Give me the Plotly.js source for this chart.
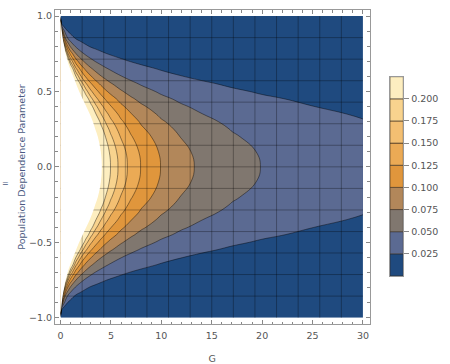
<!DOCTYPE html>
<html><head><meta charset="utf-8">
<script src="https://cdn.plot.ly/plotly-3.0.1.min.js"></script>
<style>html,body{margin:0;padding:0;background:#fff}#chart{width:450px;height:364px}</style>
</head><body><div id="chart"></div>
<script>
// Grid of G values (columns) and population dependence parameter values (rows)
const gVals = [0, 0.1, 0.25, 0.5, 0.75, 1, 1.5, 2, 2.5, 3, 3.5, 4, 4.5, 5, 6, 7, 8, 10, 12, 14, 17, 20, 25, 30];
const rVals = [-1, -0.95, -0.9, -0.85, -0.8, -0.75, -0.7, -0.65, -0.6, -0.55, -0.5, -0.45, -0.4, -0.35, -0.3, -0.25, -0.2, -0.1, 0,
               0.1, 0.2, 0.25, 0.3, 0.35, 0.4, 0.45, 0.5, 0.55, 0.6, 0.65, 0.7, 0.75, 0.8, 0.85, 0.9, 0.95, 1];
// Values estimated from the contour positions in the picture (0.3 = above plot range)
const zRows = [
 [0,0,0,0,0,0,0,0,0,0,0,0,0,0,0,0,0,0,0,0,0,0,0,0],
 [0.3,0.02,0.008,0.004,0.0027,0.002,0.0013,0.001,0.0008,0.0007,0.0006,0.0005,0.0004,0.0004,0.0003,0.0003,0.0002,0.0002,0.0002,0.0001,0.0001,0.0001,0.0001,0.0001],
 [0.3,0.175,0.07,0.035,0.023,0.0175,0.0117,0.0088,0.007,0.0058,0.005,0.0044,0.0039,0.0035,0.0029,0.0025,0.0022,0.0018,0.0015,0.0013,0.001,0.0009,0.0007,0.0006],
 [0.3,0.3,0.15,0.075,0.05,0.0375,0.025,0.019,0.015,0.0125,0.0107,0.0094,0.0083,0.0075,0.0063,0.0054,0.0047,0.0038,0.0031,0.0027,0.0022,0.0019,0.0015,0.0013],
 [0.3,0.3,0.28,0.14,0.093,0.07,0.047,0.035,0.028,0.023,0.02,0.0175,0.0156,0.014,0.0117,0.01,0.0088,0.007,0.0058,0.005,0.0041,0.0035,0.0028,0.0023],
 [0.3,0.3,0.3,0.23,0.153,0.115,0.0767,0.0575,0.046,0.0383,0.0329,0.0288,0.0256,0.023,0.0192,0.0164,0.0144,0.0115,0.0096,0.0082,0.0068,0.0058,0.0046,0.0038],
 [0.3,0.3,0.3,0.3,0.227,0.17,0.113,0.085,0.068,0.0567,0.0486,0.0425,0.0378,0.034,0.0283,0.0243,0.0213,0.017,0.0142,0.0121,0.01,0.0085,0.0068,0.0057],
 [0.3,0.3,0.3,0.3,0.3,0.235,0.157,0.1175,0.094,0.0783,0.0671,0.0588,0.0522,0.047,0.0392,0.0336,0.0294,0.0235,0.0196,0.0168,0.0138,0.0118,0.0094,0.0078],
 [0.3,0.3,0.3,0.3,0.3,0.3,0.203,0.1525,0.122,0.102,0.0871,0.0763,0.0678,0.061,0.0508,0.0436,0.0381,0.0305,0.0254,0.0218,0.0179,0.0153,0.0122,0.0102],
 [0.3,0.3,0.3,0.3,0.3,0.3,0.257,0.1925,0.154,0.128,0.11,0.0963,0.0856,0.077,0.0642,0.055,0.0481,0.0385,0.0321,0.0275,0.0226,0.0193,0.0154,0.0128],
 [0.3,0.3,0.3,0.3,0.3,0.3,0.3,0.2325,0.186,0.155,0.133,0.116,0.103,0.093,0.0775,0.0664,0.0581,0.0465,0.0388,0.0332,0.0274,0.0233,0.0186,0.0155],
 [0.3,0.3,0.3,0.3,0.3,0.3,0.3,0.275,0.22,0.183,0.157,0.1375,0.122,0.11,0.0917,0.0786,0.0688,0.055,0.0458,0.0393,0.0324,0.0275,0.022,0.0183],
 [0.3,0.3,0.3,0.3,0.3,0.3,0.3,0.3,0.252,0.21,0.18,0.1575,0.14,0.126,0.105,0.09,0.0788,0.063,0.0525,0.045,0.0371,0.0315,0.0252,0.021],
 [0.3,0.3,0.3,0.3,0.3,0.3,0.3,0.3,0.282,0.235,0.201,0.176,0.157,0.141,0.1175,0.101,0.0881,0.0705,0.0588,0.0504,0.0415,0.0353,0.0282,0.0235],
 [0.3,0.3,0.3,0.3,0.3,0.3,0.3,0.3,0.3,0.258,0.221,0.194,0.172,0.155,0.129,0.111,0.0969,0.0775,0.0646,0.0554,0.0456,0.0388,0.031,0.0258],
 [0.3,0.3,0.3,0.3,0.3,0.3,0.3,0.3,0.3,0.278,0.239,0.209,0.186,0.167,0.139,0.119,0.104,0.0835,0.0696,0.0596,0.0491,0.0418,0.0334,0.0278],
 [0.3,0.3,0.3,0.3,0.3,0.3,0.3,0.3,0.3,0.297,0.254,0.223,0.198,0.178,0.148,0.127,0.111,0.089,0.074,0.064,0.052,0.0445,0.036,0.0297],
 [0.3,0.3,0.3,0.3,0.3,0.3,0.3,0.3,0.3,0.3,0.276,0.241,0.214,0.193,0.161,0.138,0.121,0.0965,0.0804,0.0689,0.0568,0.0483,0.0386,0.0322],
 [0.3,0.3,0.3,0.3,0.3,0.3,0.3,0.3,0.3,0.3,0.283,0.248,0.22,0.198,0.165,0.141,0.124,0.099,0.0825,0.0707,0.0582,0.0495,0.0396,0.033],
 [0.3,0.3,0.3,0.3,0.3,0.3,0.3,0.3,0.3,0.3,0.276,0.241,0.214,0.193,0.161,0.138,0.121,0.0965,0.0804,0.0689,0.0568,0.0483,0.0386,0.0322],
 [0.3,0.3,0.3,0.3,0.3,0.3,0.3,0.3,0.3,0.297,0.254,0.223,0.198,0.178,0.148,0.127,0.111,0.089,0.074,0.064,0.052,0.0445,0.036,0.0297],
 [0.3,0.3,0.3,0.3,0.3,0.3,0.3,0.3,0.3,0.278,0.239,0.209,0.186,0.167,0.139,0.119,0.104,0.0835,0.0696,0.0596,0.0491,0.0418,0.0334,0.0278],
 [0.3,0.3,0.3,0.3,0.3,0.3,0.3,0.3,0.3,0.258,0.221,0.194,0.172,0.155,0.129,0.111,0.0969,0.0775,0.0646,0.0554,0.0456,0.0388,0.031,0.0258],
 [0.3,0.3,0.3,0.3,0.3,0.3,0.3,0.3,0.282,0.235,0.201,0.176,0.157,0.141,0.1175,0.101,0.0881,0.0705,0.0588,0.0504,0.0415,0.0353,0.0282,0.0235],
 [0.3,0.3,0.3,0.3,0.3,0.3,0.3,0.3,0.252,0.21,0.18,0.1575,0.14,0.126,0.105,0.09,0.0788,0.063,0.0525,0.045,0.0371,0.0315,0.0252,0.021],
 [0.3,0.3,0.3,0.3,0.3,0.3,0.3,0.275,0.22,0.183,0.157,0.1375,0.122,0.11,0.0917,0.0786,0.0688,0.055,0.0458,0.0393,0.0324,0.0275,0.022,0.0183],
 [0.3,0.3,0.3,0.3,0.3,0.3,0.3,0.2325,0.186,0.155,0.133,0.116,0.103,0.093,0.0775,0.0664,0.0581,0.0465,0.0388,0.0332,0.0274,0.0233,0.0186,0.0155],
 [0.3,0.3,0.3,0.3,0.3,0.3,0.257,0.1925,0.154,0.128,0.11,0.0963,0.0856,0.077,0.0642,0.055,0.0481,0.0385,0.0321,0.0275,0.0226,0.0193,0.0154,0.0128],
 [0.3,0.3,0.3,0.3,0.3,0.3,0.203,0.1525,0.122,0.102,0.0871,0.0763,0.0678,0.061,0.0508,0.0436,0.0381,0.0305,0.0254,0.0218,0.0179,0.0153,0.0122,0.0102],
 [0.3,0.3,0.3,0.3,0.3,0.235,0.157,0.1175,0.094,0.0783,0.0671,0.0588,0.0522,0.047,0.0392,0.0336,0.0294,0.0235,0.0196,0.0168,0.0138,0.0118,0.0094,0.0078],
 [0.3,0.3,0.3,0.3,0.227,0.17,0.113,0.085,0.068,0.0567,0.0486,0.0425,0.0378,0.034,0.0283,0.0243,0.0213,0.017,0.0142,0.0121,0.01,0.0085,0.0068,0.0057],
 [0.3,0.3,0.3,0.23,0.153,0.115,0.0767,0.0575,0.046,0.0383,0.0329,0.0288,0.0256,0.023,0.0192,0.0164,0.0144,0.0115,0.0096,0.0082,0.0068,0.0058,0.0046,0.0038],
 [0.3,0.3,0.28,0.14,0.093,0.07,0.047,0.035,0.028,0.023,0.02,0.0175,0.0156,0.014,0.0117,0.01,0.0088,0.007,0.0058,0.005,0.0041,0.0035,0.0028,0.0023],
 [0.3,0.3,0.15,0.075,0.05,0.0375,0.025,0.019,0.015,0.0125,0.0107,0.0094,0.0083,0.0075,0.0063,0.0054,0.0047,0.0038,0.0031,0.0027,0.0022,0.0019,0.0015,0.0013],
 [0.3,0.175,0.07,0.035,0.023,0.0175,0.0117,0.0088,0.007,0.0058,0.005,0.0044,0.0039,0.0035,0.0029,0.0025,0.0022,0.0018,0.0015,0.0013,0.001,0.0009,0.0007,0.0006],
 [0.3,0.02,0.008,0.004,0.0027,0.002,0.0013,0.001,0.0008,0.0007,0.0006,0.0005,0.0004,0.0004,0.0003,0.0003,0.0002,0.0002,0.0002,0.0001,0.0001,0.0001,0.0001,0.0001],
 [0,0,0,0,0,0,0,0,0,0,0,0,0,0,0,0,0,0,0,0,0,0,0,0]
];
// Contour levels / legend
const levels = [0.025, 0.05, 0.075, 0.1, 0.125, 0.15, 0.175, 0.2];
const levelLabels = ['0.025','0.050','0.075','0.100','0.125','0.150','0.175','0.200'];
const bandBottoms = [0, 0.025, 0.05, 0.075, 0.1, 0.125, 0.15, 0.175, 0.2];
const bandHeights = [0.025, 0.025, 0.025, 0.025, 0.025, 0.025, 0.025, 0.025, 0.025];
const bandColors = ['#1f4a7f','#5b6a92','#80776f','#b2875a','#e0963c','#ebaa55','#f3bf72','#f8d38e','#fdeec0'];
// Mesh lines
const meshG = [2.143, 4.286, 6.429, 8.571, 10.714, 12.857, 15, 17.143, 19.286, 21.429, 23.571, 25.714, 27.857];
const meshR = [-0.857, -0.714, -0.571, -0.429, -0.286, -0.143, 0, 0.143, 0.286, 0.429, 0.571, 0.714, 0.857];
// Region outside the plot range (white)
const whiteG = [0, 0.05, 0.12, 0.22, 0.35, 0.5, 0.7, 0.95, 1.25, 1.55, 1.85, 2.2, 2.55, 2.9, 3.2, 3.45, 3.7, 4.0, 4.1,
                4.0, 3.7, 3.45, 3.2, 2.9, 2.55, 2.2, 1.85, 1.55, 1.25, 0.95, 0.7, 0.5, 0.35, 0.22, 0.12, 0.05, 0];
const whiteR = [0.97, 0.95, 0.9, 0.85, 0.8, 0.75, 0.7, 0.65, 0.6, 0.55, 0.5, 0.45, 0.4, 0.35, 0.3, 0.25, 0.2, 0.1, 0,
                -0.1, -0.2, -0.25, -0.3, -0.35, -0.4, -0.45, -0.5, -0.55, -0.6, -0.65, -0.7, -0.75, -0.8, -0.85, -0.9, -0.95, -0.97];

const nb = bandColors.length, step = 1 / (nb - 1);
const cscale = [];
bandColors.forEach((c, k) => {
  cscale.push([Math.max(0, (k - 0.5) * step), c]);
  cscale.push([Math.min(1, (k + 0.5) * step), c]);
});

const mgx = [], mgy = [];
meshG.forEach(g => { mgx.push(g, g, null); mgy.push(rVals[0], rVals[rVals.length - 1], null); });
const mrx = [], mry = [];
meshR.forEach(r => { mrx.push(gVals[0], gVals[gVals.length - 1], null); mry.push(r, r, null); });

const FONT = 'DejaVu Sans';
const tickCol = '#888';
const data = [
  {type: 'contour', x: gVals, y: rVals, z: zRows, autocontour: false,
   contours: {start: levels[0], end: levels[levels.length - 1], size: 0.025, coloring: 'fill', showlines: true},
   line: {color: 'rgba(0,0,0,0.6)', width: 0.7, smoothing: 1.3},
   colorscale: cscale, showscale: false, hoverinfo: 'skip'},
  {type: 'scatter', mode: 'lines', x: mgx, y: mgy, line: {color: 'rgba(0,0,0,0.3)', width: 1}, hoverinfo: 'skip', showlegend: false},
  {type: 'scatter', mode: 'lines', x: mrx, y: mry, line: {color: 'rgba(0,0,0,0.3)', width: 1}, hoverinfo: 'skip', showlegend: false},
  {type: 'scatter', mode: 'lines', x: whiteG, y: whiteR, fill: 'toself', fillcolor: '#ffffff', line: {width: 0, color: 'rgba(0,0,0,0)', shape: 'spline'}, hoverinfo: 'skip', showlegend: false},
  {type: 'bar', xaxis: 'x2', yaxis: 'y2', x: bandBottoms.map(() => 0), y: bandHeights, base: bandBottoms, width: 1,
   marker: {color: bandColors, line: {color: 'rgba(50,40,30,0.75)', width: 0.8}}, hoverinfo: 'skip', showlegend: false}
];

const layout = {
  width: 450, height: 364,
  margin: {l: 55, r: 10, t: 10, b: 40},
  paper_bgcolor: '#fff', plot_bgcolor: '#fff',
  font: {family: FONT, size: 9.5, color: '#555'},
  showlegend: false, bargap: 0,
  xaxis: {domain: [0, 0.8169], range: [-0.55, 30.65], tick0: 0, dtick: 5, ticks: 'inside', ticklen: 4, tickcolor: tickCol,
    ticklabelstandoff: 3,
    minor: {dtick: 1, ticks: 'inside', ticklen: 2.5, tickcolor: tickCol, showgrid: false},
    showline: true, linecolor: '#999', mirror: 'allticks', showgrid: false, zeroline: false,
    tickfont: {family: FONT, size: 9.5, color: '#555'},
    title: {text: 'G', font: {family: FONT, size: 9.5, color: '#555'}}},
  yaxis: {domain: [0, 1], range: [-1.042, 1.04], tick0: 0, dtick: 0.5, tickformat: '.1f', ticks: 'inside', ticklen: 4, tickcolor: tickCol,
    minor: {dtick: 0.1, ticks: 'inside', ticklen: 2.5, tickcolor: tickCol, showgrid: false},
    showline: true, linecolor: '#999', mirror: 'allticks', showgrid: false, zeroline: false,
    tickfont: {family: FONT, size: 9.5, color: '#555'},
    title: {text: 'Population Dependence Parameter', font: {family: FONT, size: 9.5, color: '#4b5a82'}}},
  xaxis2: {domain: [0.8701, 0.9047], anchor: 'y2', range: [-0.5, 0.5], showticklabels: false, ticks: '', showgrid: false, zeroline: false,
    showline: true, linecolor: '#999', mirror: true, fixedrange: true},
  yaxis2: {domain: [0.153, 0.7876], anchor: 'x2', side: 'right', range: [0, 0.225], tickvals: levels, ticktext: levelLabels,
    ticks: 'outside', ticklen: 5, tickcolor: tickCol, showgrid: false, zeroline: false, showline: true, linecolor: '#999', mirror: true,
    tickfont: {family: FONT, size: 9.5, color: '#555'}, fixedrange: true},
  annotations: [{xref: 'paper', yref: 'paper', x: -0.143, y: 0.449, xanchor: 'left', yanchor: 'middle', text: '=', showarrow: false,
    font: {family: FONT, size: 8, color: '#4b5a82'}}]
};
Plotly.newPlot('chart', data, layout, {staticPlot: true, displayModeBar: false});
</script></body></html>
